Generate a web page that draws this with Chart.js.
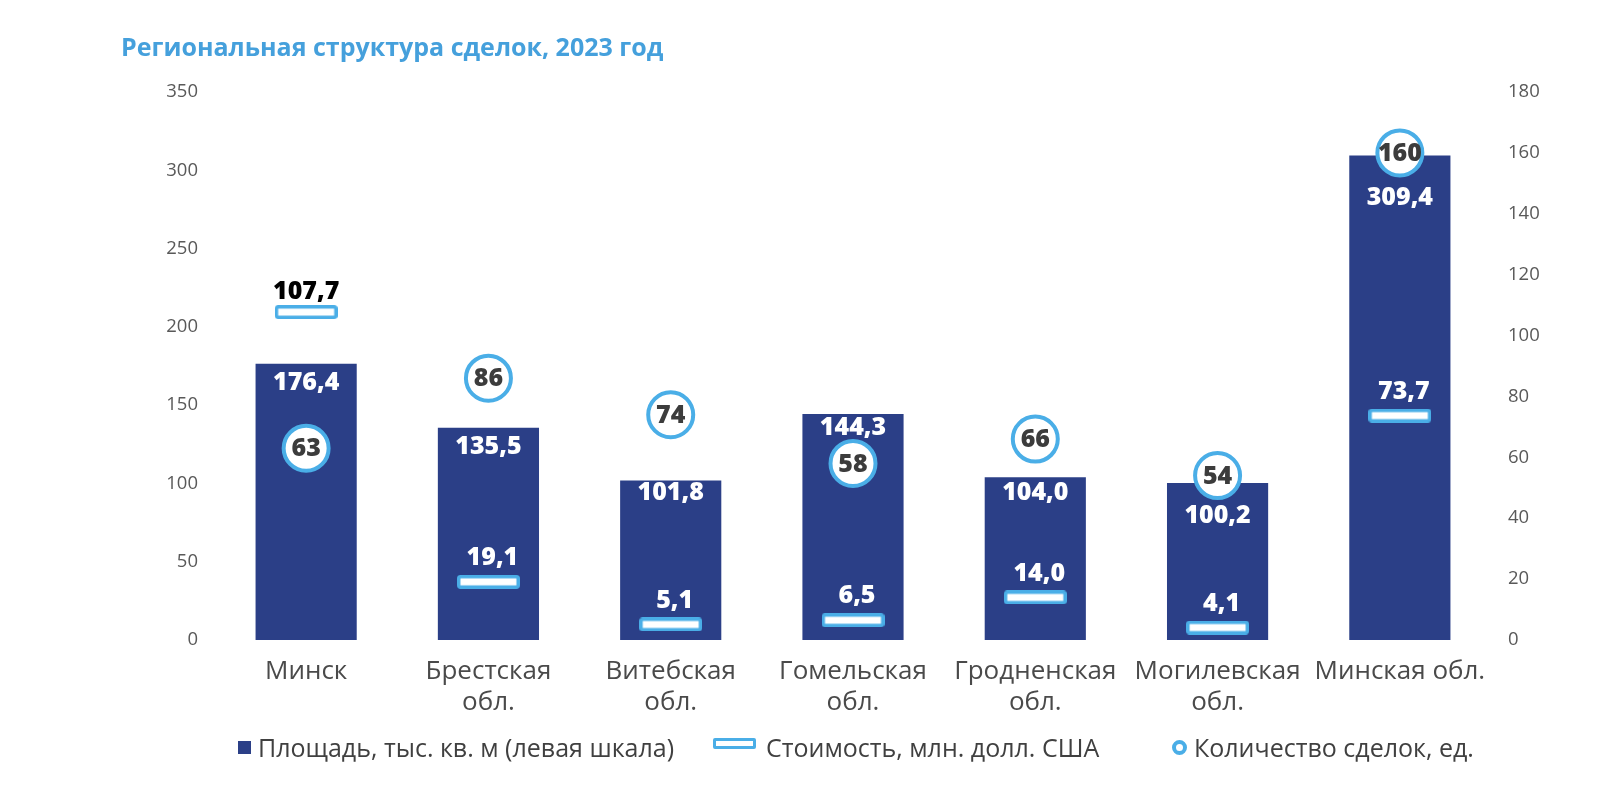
<!DOCTYPE html>
<html>
<head>
<meta charset="utf-8">
<script src="https://cdn.jsdelivr.net/npm/chart.js@4.4.1/dist/chart.umd.min.js"></script>
<style>
  html, body { margin: 0; padding: 0; background: #ffffff; }
  #wrap { position: relative; width: 1618px; height: 800px; overflow: hidden; }
  #chart { position: absolute; left: 0; top: 0; }
  .lg-text { position: absolute; top: 732px; font-family: 'Open Sans', sans-serif; font-size: 25px; line-height: 30px; color: #404040; white-space: nowrap; }
  .lg-icon { position: absolute; box-sizing: border-box; }
</style>
</head>
<body>
<div id="wrap">
  <canvas id="chart" width="1618" height="800"></canvas>
  <div class="lg-icon" id="ic0" style="left:238px;top:741px;width:13px;height:13px;background:#2B3F87;"></div>
  <div class="lg-text" id="lt0" style="left:258px;"></div>
  <div class="lg-icon" id="ic1" style="left:713px;top:738px;width:43px;height:11px;border:3px solid #4AAEE7;border-radius:2px;background:#fff;"></div>
  <div class="lg-text" id="lt1" style="left:766px;"></div>
  <div class="lg-icon" id="ic2" style="left:1172px;top:740px;width:15px;height:15px;border:4px solid #4AAEE7;border-radius:50%;background:#fff;"></div>
  <div class="lg-text" id="lt2" style="left:1194px;"></div>
</div>
<script>
// ---- data ----
const title = 'Региональная структура сделок, 2023 год';
const categories = ['Минск', ['Брестская', 'обл.'], ['Витебская', 'обл.'], ['Гомельская', 'обл.'], ['Гродненская', 'обл.'], ['Могилевская', 'обл.'], 'Минская обл.'];
const seriesNames = ['Площадь, тыс. кв. м (левая шкала)', 'Стоимость, млн. долл. США', 'Количество сделок, ед.'];
const areaValues = [176.4, 135.5, 101.8, 144.3, 104.0, 100.2, 309.4];
const costValues = [107.7, 19.1, 5.1, 6.5, 14.0, 4.1, 73.7];
const dealValues = [63, 86, 74, 58, 66, 54, 160];
const leftTicks = { min: 0, max: 350, step: 50 };
const rightTicks = { min: 0, max: 180, step: 20 };

// ---- styling ----
const FONT = "'Open Sans', sans-serif";
const NAVY = '#2B3F87';
const BLUE = '#4AAEE7';
const barLabelShift = [19, 19, 12, 14, 16, 33, 42];

seriesNames.forEach((n, i) => { document.getElementById('lt' + i).textContent = n; });

// hollow rectangle marker for cost series
function makeRectMarker() {
  const c = document.createElement('canvas');
  c.width = 63; c.height = 14;
  const g = c.getContext('2d');
  g.fillStyle = '#ffffff';
  g.strokeStyle = BLUE;
  g.lineWidth = 3.5;
  g.beginPath();
  if (g.roundRect) g.roundRect(1.75, 1.75, 59.5, 10.5, 2); else g.rect(1.75, 1.75, 59.5, 10.5);
  g.fill();
  g.stroke();
  return c;
}
const rectMarker = makeRectMarker();

const fmt = v => v.toFixed(1).replace('.', ',');

const labelPlugin = {
  id: 'valueLabels',
  afterDatasetsDraw(chart) {
    const ctx = chart.ctx;
    const bars = chart.getDatasetMeta(0).data;
    const costs = chart.getDatasetMeta(1).data;
    const deals = chart.getDatasetMeta(2).data;
    ctx.save();
    ctx.textAlign = 'center';
    ctx.textBaseline = 'middle';
    ctx.font = `800 25px ${FONT}`;
    bars.forEach((b, i) => {
      ctx.fillStyle = '#ffffff';
      ctx.fillText(fmt(areaValues[i]), b.x, b.y + barLabelShift[i]);
    });
    costs.forEach((p, i) => {
      const inside = p.y > bars[i].y;
      ctx.fillStyle = inside ? '#ffffff' : '#000000';
      ctx.fillText(fmt(costValues[i]), p.x + (inside ? 4 : 0), p.y - (inside ? 24 : 20));
    });
    ctx.fillStyle = '#3c3c3c';
    deals.forEach((p, i) => {
      ctx.fillText(String(dealValues[i]), p.x, p.y + 1);
    });
    ctx.restore();
  }
};

new Chart(document.getElementById('chart'), {
  type: 'bar',
  data: {
    labels: categories,
    datasets: [
      {
        type: 'bar',
        label: seriesNames[0],
        data: areaValues,
        yAxisID: 'y',
        backgroundColor: NAVY,
        categoryPercentage: 1.0,
        barPercentage: 0.555,
        order: 3
      },
      {
        type: 'line',
        label: seriesNames[1],
        data: costValues,
        yAxisID: 'y1',
        showLine: false,
        pointStyle: rectMarker,
        pointRadius: 5,
        pointHoverRadius: 5,
        order: 2
      },
      {
        type: 'line',
        label: seriesNames[2],
        data: dealValues,
        yAxisID: 'y1',
        showLine: false,
        pointStyle: 'circle',
        pointRadius: 22.5,
        pointHoverRadius: 22.5,
        pointBorderWidth: 4,
        pointHoverBorderWidth: 4,
        pointBackgroundColor: '#ffffff',
        pointBorderColor: BLUE,
        order: 1
      }
    ]
  },
  options: {
    responsive: false,
    animation: false,
    devicePixelRatio: 1,
    layout: { padding: { left: 121, right: 0, top: 0, bottom: 0 } },
    plugins: {
      legend: { display: false },
      tooltip: { enabled: false },
      title: {
        display: true,
        text: title,
        align: 'start',
        color: '#45A0DC',
        font: { family: FONT, size: 25, weight: 'bold' },
        padding: { top: 34, bottom: 28 }
      }
    },
    scales: {
      x: {
        grid: { display: false, drawTicks: false },
        border: { display: false },
        ticks: {
          color: '#4a4a4a',
          font: { family: FONT, size: 26 },
          padding: 16,
          maxRotation: 0,
          autoSkip: false
        },
        afterFit(s) { s.height = 160; }
      },
      y: {
        position: 'left',
        min: leftTicks.min,
        max: leftTicks.max,
        grid: { display: false, drawTicks: false },
        border: { display: false },
        ticks: {
          stepSize: leftTicks.step,
          color: '#595959',
          font: { family: FONT, size: 18.5 },
          padding: 17
        },
        afterFit(s) { s.width = 94; }
      },
      y1: {
        position: 'right',
        min: rightTicks.min,
        max: rightTicks.max,
        grid: { display: false, drawTicks: false },
        border: { display: false },
        ticks: {
          stepSize: rightTicks.step,
          color: '#595959',
          font: { family: FONT, size: 18.5 },
          padding: 17
        },
        afterFit(s) { s.width = 127; }
      }
    }
  },
  plugins: [labelPlugin]
});
</script>
</body>
</html>
